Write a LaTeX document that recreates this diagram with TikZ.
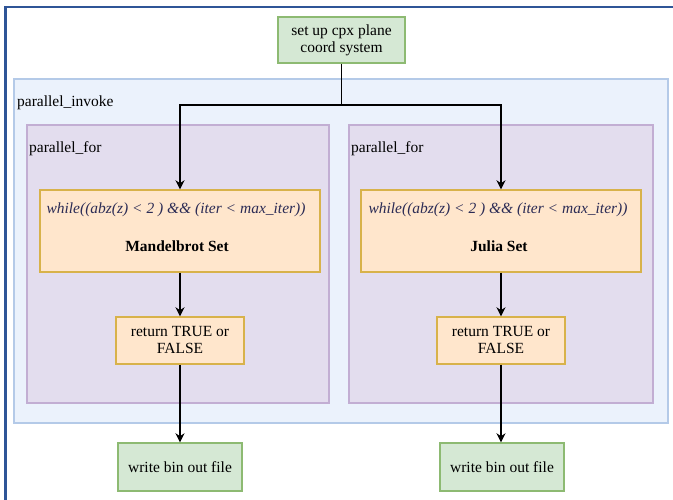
\documentclass[tikz,border=0pt]{standalone}
\usepackage{fontspec}
\setmainfont{Liberation Serif}
\usetikzlibrary{arrows.meta}
\definecolor{frameblue}{HTML}{2F5597}
\definecolor{invfill}{HTML}{EBF2FC}
\definecolor{invline}{HTML}{B4CAE8}
\definecolor{forfill}{HTML}{E3DDEE}
\definecolor{forline}{HTML}{C2AED3}
\definecolor{orfill}{HTML}{FFE6CC}
\definecolor{orline}{HTML}{D8B24A}
\definecolor{grfill}{HTML}{D5E8D4}
\definecolor{grline}{HTML}{8DBA72}
\definecolor{italtext}{HTML}{2B2B55}
\tikzset{
  x=1pt, y=-1pt,
  every node/.style={font=\fontsize{15.5}{17}\selectfont, inner sep=0pt},
  container/.style={draw=invline, fill=invfill, line width=1.2pt},
  loopbox/.style={draw=forline, fill=forfill, line width=1.2pt},
  orbox/.style={draw=orline, fill=orfill, line width=1.4pt, align=center},
  grbox/.style={draw=grline, fill=grfill, line width=1.4pt, align=center},
  flow/.style={draw=black, line width=1.4pt, -{Stealth[length=9pt,width=9pt]}},
  plain/.style={draw=black, line width=1.4pt},
}
\begin{document}
\begin{tikzpicture}
\useasboundingbox (0,0) rectangle (673,500);
% page frame (top and left edges)
\draw[frameblue, line width=2.2pt] (673,7) -- (5.5,7) -- (5.5,500);

% containers
\draw[container] (14,79) rectangle (668,423);
\node[anchor=west] (invlabel) at (17,103) {parallel\_invoke};
\draw[loopbox] (27,125) rectangle (329,403);
\node[anchor=west] (forlabelL) at (29,149) {parallel\_for};
\draw[loopbox] (349,125) rectangle (653,403);
\node[anchor=west] (forlabelR) at (351,149) {parallel\_for};

% nodes
\node[grbox, minimum width=127pt, minimum height=46pt] (setup) at (341.5,40)
  {set up cpx plane\\coord system};

\node[orbox, minimum width=280pt, minimum height=82pt] (mandel) at (180,231) {};
\node[text=italtext] (mcond) at (176,210) {\itshape while((abz(z) < 2 ) \&\& (iter < max\_iter))};
\node (mname) at (177,246) {\bfseries Mandelbrot Set};

\node[orbox, minimum width=280pt, minimum height=82pt] (julia) at (501,231) {};
\node[text=italtext] (jcond) at (498,210) {\itshape while((abz(z) < 2 ) \&\& (iter < max\_iter))};
\node (jname) at (499,246) {\bfseries Julia Set};

\node[orbox, minimum width=128pt, minimum height=47pt] (retL) at (180,340.5)
  {return TRUE or\\FALSE};
\node[orbox, minimum width=128pt, minimum height=47pt] (retR) at (501,340.5)
  {return TRUE or\\FALSE};

\node[grbox, minimum width=124pt, minimum height=48pt] (outL) at (180,467)
  {write bin out file};
\node[grbox, minimum width=124pt, minimum height=48pt] (outR) at (502,467)
  {write bin out file};

% connectors
\coordinate (split) at (341.5,105);
\draw[plain] (setup.south) -- (split);
\draw[flow] (split) -| (mandel.north);
\draw[flow] (split) -| (julia.north);
\draw[flow] (mandel) -- (retL);
\draw[flow] (julia) -- (retR);
\draw[flow] (retL) -- (outL);
\draw[flow] (retR.south) -- (retR.south |- outR.north);
\end{tikzpicture}
\end{document}
